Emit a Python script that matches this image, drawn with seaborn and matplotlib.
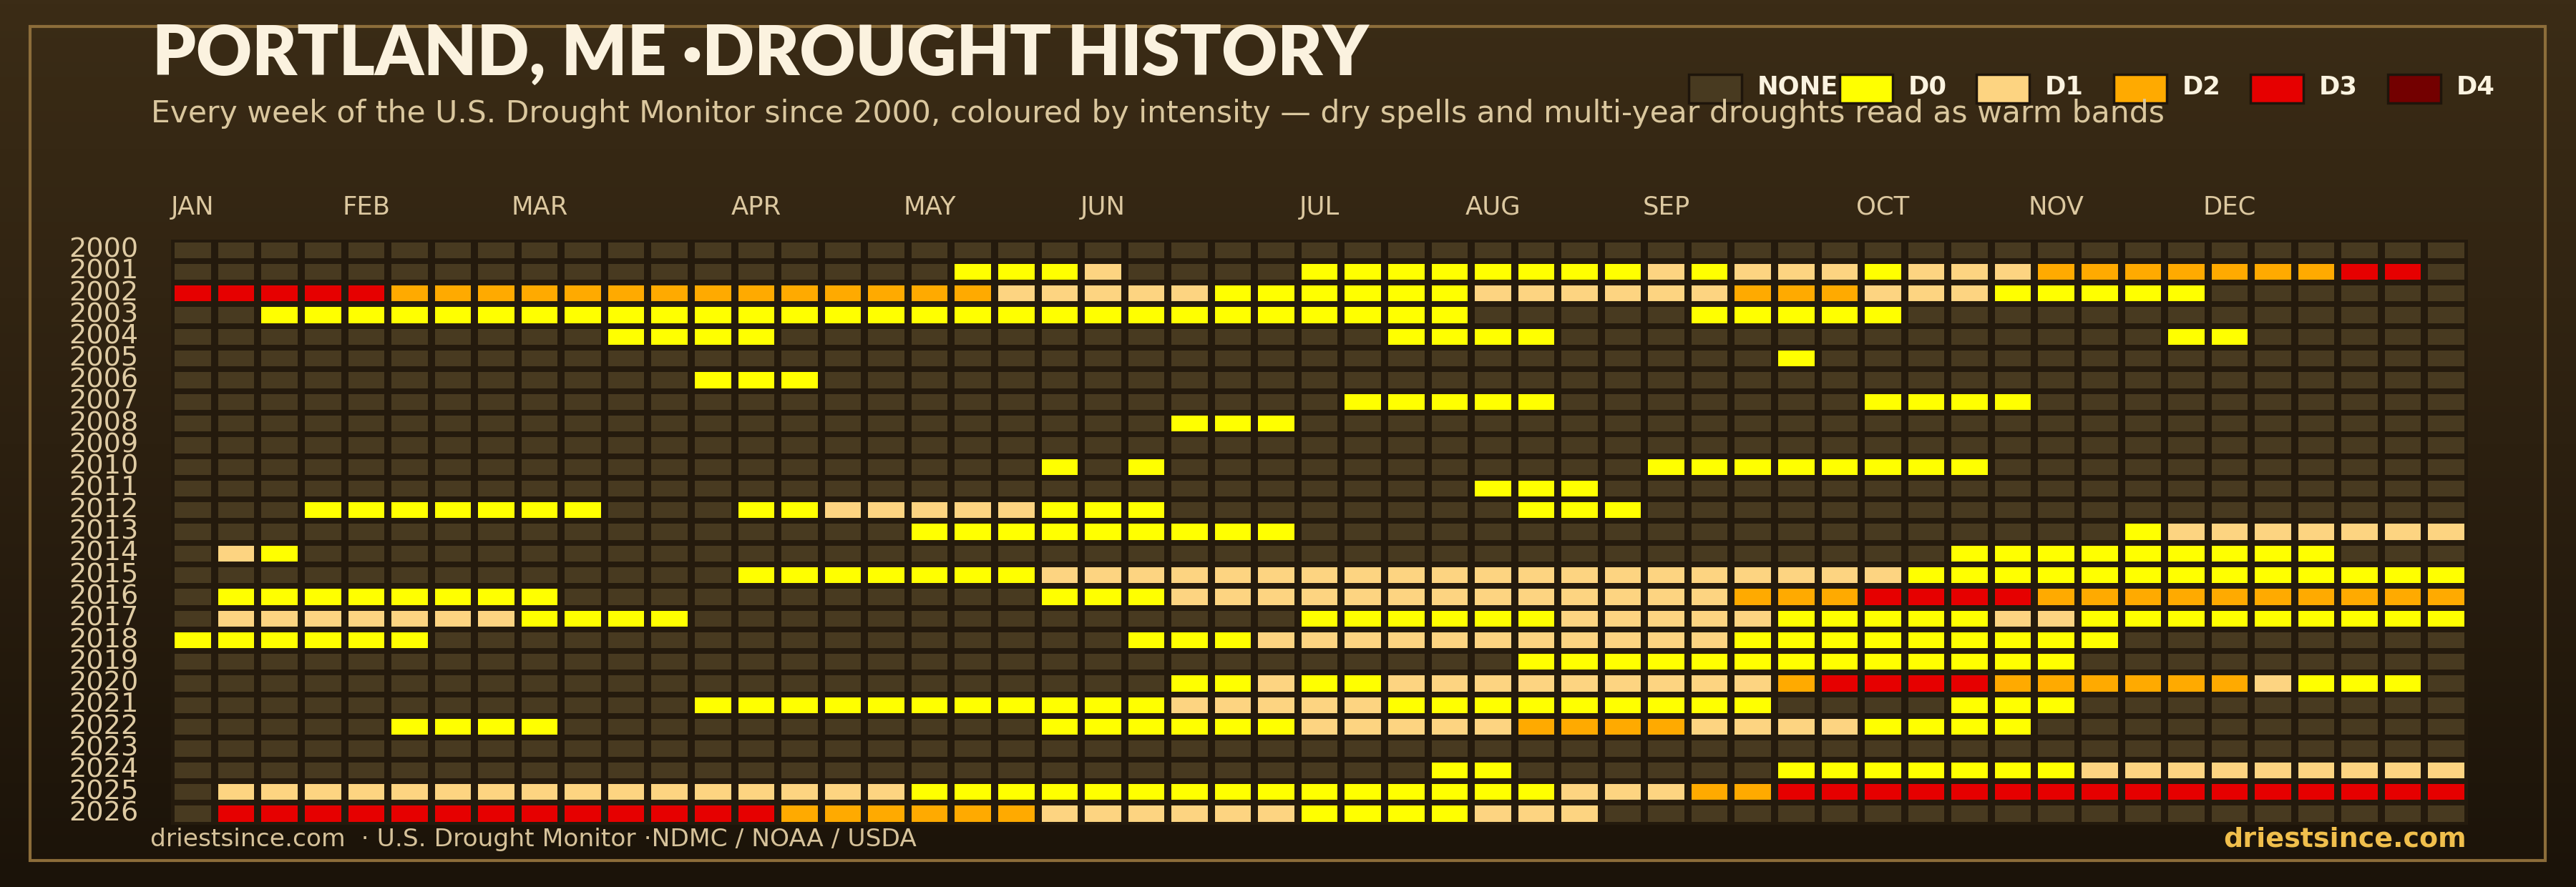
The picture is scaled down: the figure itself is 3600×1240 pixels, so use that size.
import numpy as np
import pandas as pd
import matplotlib
matplotlib.use("Agg")
import matplotlib.pyplot as plt
import seaborn as sns
from matplotlib.colors import ListedColormap, LinearSegmentedColormap
from matplotlib.patches import Rectangle

# ---------------- data ----------------
years = list(range(2000, 2027))
# one string per year, 53 weekly values (0=none,1=D0,2=D1,3=D2,4=D3,5=D4); spaces only group by 10
week_rows = [
    "0000000000 0000000000 0000000000 0000000000 0000000000 000",  # 2000
    "0000000000 0000000011 1200001111 1111212221 2223333333 440",  # 2001
    "4444433333 3333333332 2222111111 2222223332 2211111000 000",  # 2002
    "0011111111 1111111111 1111111111 0000011111 0000000000 000",  # 2003
    "0000000000 1111000000 0000000011 1100000000 0000001100 000",  # 2004
    "0000000000 0000000000 0000000000 0000000100 0000000000 000",  # 2005
    "0000000000 0011100000 0000000000 0000000000 0000000000 000",  # 2006
    "0000000000 0000000000 0000000111 1100000001 1110000000 000",  # 2007
    "0000000000 0000000000 0001110000 0000000000 0000000000 000",  # 2008
    "0000000000 0000000000 0000000000 0000000000 0000000000 000",  # 2009
    "0000000000 0000000000 1010000000 0000111111 1100000000 000",  # 2010
    "0000000000 0000000000 0000000000 1110000000 0000000000 000",  # 2011
    "0001111111 0001122222 1110000000 0111000000 0000000000 000",  # 2012
    "0000000000 0000000111 1111110000 0000000000 0000012222 222",  # 2013
    "0210000000 0000000000 0000000000 0000000000 0111111111 000",  # 2014
    "0000000000 0001111111 2222222222 2222222222 1111111111 111",  # 2015
    "0111111110 0000000000 1112222222 2222223334 4443333333 333",  # 2016
    "0222222211 1100000000 0000001111 1122222111 1122111111 111",  # 2017
    "1111110000 0000000000 0011122222 2222221111 1111100000 000",  # 2018
    "0000000000 0000000000 0000000000 0111111111 1111000000 000",  # 2019
    "0000000000 0000000000 0001121122 2222222344 4433333321 110",  # 2020
    "0000000000 0011111111 1112222211 1111111000 0111000000 000",  # 2021
    "0000011110 0000000000 1111112222 2333322221 1110000000 000",  # 2022
    "0000000000 0000000000 0000000000 0000000000 0000000000 000",  # 2023
    "0000000000 0000000000 0000000001 1000000111 1111222222 222",  # 2024
    "0222222222 2222222111 1111111111 1122233444 4444444444 444",  # 2025
    "0444444444 4444333333 2222221111 2220000000 0000000000 000",  # 2026
]
levels = ["NONE", "D0", "D1", "D2", "D3", "D4"]
level_colors = ["#483a20", "#ffff00", "#fdd481", "#ffaa00", "#e60000", "#730000"]
month_labels = ["JAN", "FEB", "MAR", "APR", "MAY", "JUN",
                "JUL", "AUG", "SEP", "OCT", "NOV", "DEC"]
month_week = [0, 4, 8, 13, 17, 21, 26, 30, 34, 39, 43, 47]

title = "PORTLAND, ME \u00b7DROUGHT HISTORY"
subtitle = ("Every week of the U.S. Drought Monitor since 2000, coloured by intensity "
            "\u2014 dry spells and multi-year droughts read as warm bands")
footer_left = "driestsince.com  \u00b7 U.S. Drought Monitor \u00b7NDMC / NOAA / USDA"
footer_right = "driestsince.com"

# ---------------- style ----------------
W, H = 3600, 1240
DPI = 100
sns.set_theme(style="white")
plt.rcParams["font.family"] = ["DejaVu Sans"]

def fx(x):
    return x / W

def fy(y):
    return 1 - y / H

fig = plt.figure(figsize=(W / DPI, H / DPI), dpi=DPI)
renderer = fig.canvas.get_renderer()

# background gradient
bg = fig.add_axes([0, 0, 1, 1], zorder=-10)
grad = np.linspace(0, 1, 256)[:, None]
bg_cmap = LinearSegmentedColormap.from_list("bg", ["#3b2c16", "#2c2010", "#1b1309"])
bg.imshow(grad, aspect="auto", cmap=bg_cmap, extent=[0, 1, 0, 1], origin="upper")
bg.set_axis_off()

# frame
fig.add_artist(Rectangle((fx(42), fy(1203)), (3557 - 42) / W, (1203 - 37) / H,
                         transform=fig.transFigure, fill=False,
                         edgecolor="#8c6d3a", lw=3, zorder=1))

# heatmap
data = np.array([[int(ch) for ch in row.replace(" ", "")] for row in week_rows])
df = pd.DataFrame(data, index=years)
cmap = ListedColormap(level_colors)
gapc = "#241a0d"
left, right, top, bottom = 239.3, 3449.0, 334.5, 1152.6
ax = fig.add_axes([fx(left), fy(bottom), (right - left) / W, (bottom - top) / H], zorder=2)
ax.patch.set_alpha(0)
sns.heatmap(df, ax=ax, cmap=cmap, vmin=-0.5, vmax=len(levels) - 0.5, cbar=False,
            linewidths=7.5 * 72 / DPI, linecolor=gapc,
            xticklabels=False, yticklabels=years)
ax.vlines(np.arange(0, data.shape[1] + 1), 0, data.shape[0], colors=gapc,
          lw=10.0 * 72 / DPI)
ax.set_xticks(np.array(month_week) + 0.5)
ax.set_xticklabels(month_labels)
ax.xaxis.tick_top()
ax.tick_params(axis="x", length=0, pad=20, labelsize=25.5, labelcolor="#dcc8a0")
ax.tick_params(axis="y", length=0, pad=33, labelsize=27.5, labelcolor="#e0cca4")
for t in ax.get_yticklabels():
    t.set_rotation(0)
    t.set_va("center")
ax.set_xlabel("")
ax.set_ylabel("")
for s in ax.spines.values():
    s.set_visible(False)

def fit_text(x, y, s, target_w, **kw):
    t = fig.text(x, y, s, **kw)
    w = t.get_window_extent(renderer).width
    t.set_fontsize(t.get_fontsize() * target_w / w)
    return t

# title & subtitle
fit_text(fx(213), fy(105), title, 1700, fontsize=60, fontweight="heavy",
         family=["Lato", "DejaVu Sans"], color="#fbf2df", va="baseline", ha="left", zorder=5)
fit_text(fx(211), fy(171), subtitle, 2815, fontsize=24, color="#dac79e",
         va="baseline", ha="left", zorder=5)

# legend
legend_x = [2360, 2571, 2762, 2954, 3145, 3337]
for lx, lab, col in zip(legend_x, levels, level_colors):
    fig.add_artist(Rectangle((fx(lx), fy(144)), 74 / W, 40 / H,
                             transform=fig.transFigure, facecolor=col,
                             edgecolor="#1e150b", lw=2.5, zorder=5))
    fig.text(fx(lx + 96), fy(122), lab, fontsize=25.5, fontweight="bold",
             color="#fbf3e0", va="center", ha="left", zorder=5)

# footers
fit_text(fx(210), fy(1183), footer_left, 1071, fontsize=23, color="#d6c29a",
         va="baseline", ha="left", zorder=5)
fit_text(fx(3447), fy(1183), footer_right, 340, fontsize=27, fontweight="bold",
         color="#f0bf4c", va="baseline", ha="right", zorder=5)

fig.savefig("out.png", dpi=DPI)
